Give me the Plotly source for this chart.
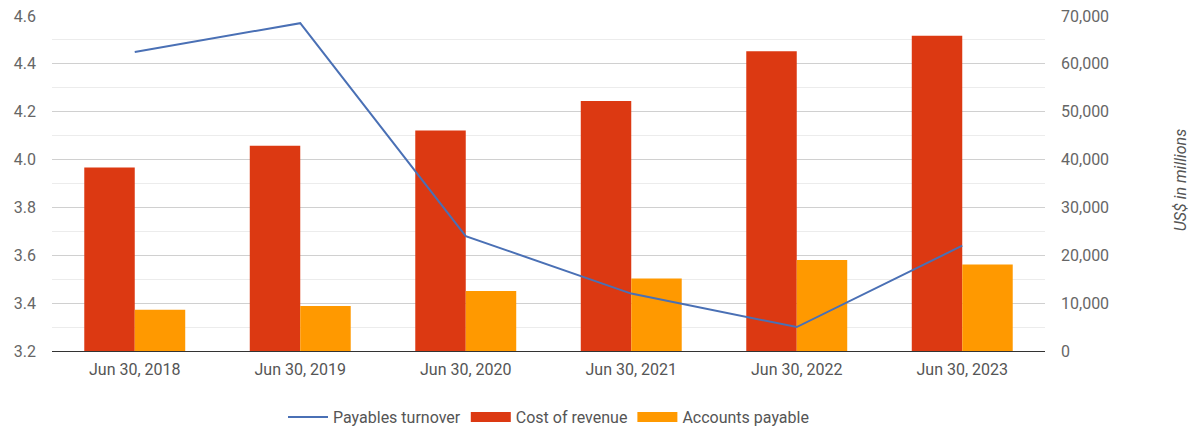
import plotly.graph_objects as go

categories = ["Jun 30, 2018", "Jun 30, 2019", "Jun 30, 2020", "Jun 30, 2021", "Jun 30, 2022", "Jun 30, 2023"]
payables_turnover = [4.45, 4.57, 3.68, 3.44, 3.30, 3.64]
cost_of_revenue = [38353, 42910, 46078, 52232, 62650, 65863]
accounts_payable = [8617, 9382, 12530, 15163, 19000, 18095]

font_family = "Roboto, Arial, sans-serif"
tick_color = "#666666"
red = "#dc3912"
orange = "#ff9900"
blue = "#4a70b5"

fig = go.Figure()
fig.add_trace(go.Bar(x=categories, y=cost_of_revenue, name="Cost of revenue",
                     marker=dict(color=red, line=dict(width=0)), yaxis="y", showlegend=False))
fig.add_trace(go.Bar(x=categories, y=accounts_payable, name="Accounts payable",
                     marker=dict(color=orange, line=dict(width=0)), yaxis="y", showlegend=False))
fig.add_trace(go.Scatter(x=categories, y=payables_turnover, name="Payables turnover", mode="lines",
                         line=dict(color=blue, width=2), yaxis="y2", legendrank=1))
# legend swatches (wide boxes like the reference)
fig.add_trace(go.Scatter(x=[categories[0]], y=[None], name="Cost of revenue", mode="lines",
                         line=dict(color=red, width=15), yaxis="y", legendrank=2, hoverinfo="skip"))
fig.add_trace(go.Scatter(x=[categories[0]], y=[None], name="Accounts payable", mode="lines",
                         line=dict(color=orange, width=15), yaxis="y", legendrank=3, hoverinfo="skip"))

fig.update_layout(
    width=1197, height=430,
    margin=dict(l=52, r=152, t=16, b=79, autoexpand=False),
    paper_bgcolor="white", plot_bgcolor="white",
    font=dict(family=font_family, size=16, color=tick_color),
    barmode="group", bargap=0.39, bargroupgap=0.0,
    showlegend=True,
    legend=dict(orientation="h", x=0.5, xanchor="center", y=-0.197, yanchor="middle",
                font=dict(size=16, color="#555555"), traceorder="normal",
                itemwidth=40),
    xaxis=dict(type="category", showline=True, linecolor="#333333", linewidth=1,
               showgrid=False, ticks="", automargin=False,
               tickfont=dict(size=16, color="#555555"), ticklabelstandoff=4),
    yaxis=dict(side="right", range=[0, 70000], dtick=10000, tickformat=",d",
               showgrid=True, gridcolor="#d0d0d0", gridwidth=1, zeroline=False,
               minor=dict(dtick=5000, showgrid=True, gridcolor="#ececec", gridwidth=1),
               automargin=False,
               tickfont=dict(size=16, color=tick_color), ticklabelstandoff=15),
    yaxis2=dict(side="left", overlaying="y", range=[3.2, 4.6], dtick=0.2, tickformat=".1f",
                showgrid=False, zeroline=False, automargin=False,
                tickfont=dict(size=16, color=tick_color), ticklabelstandoff=15),
    annotations=[dict(text="US$ in millions", xref="paper", yref="paper", x=1.136, y=0.51,
                      xanchor="center", yanchor="middle",
                      textangle=-90, showarrow=False,
                      font=dict(size=16, color="#555555", style="italic"))],
)

fig.write_html("out.html", config={"displayModeBar": False},
               post_script="document.body.style.margin='0px';document.body.style.overflow='hidden';")
